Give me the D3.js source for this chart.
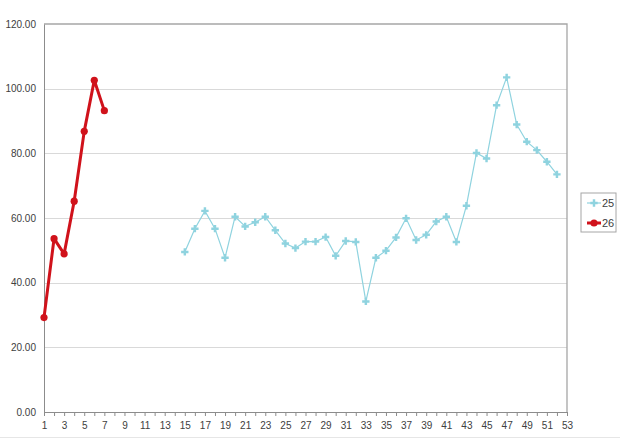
<!DOCTYPE html>
<html>
<head>
<meta charset="utf-8">
<script src="https://cdn.jsdelivr.net/npm/d3@7"></script>
<style>
  body { margin: 0; background: #fff; }
  text { font-family: "Liberation Sans Narrow", "Liberation Sans", sans-serif; fill: #404040; }
</style>
</head>
<body>
<svg id="chart" width="620" height="439"></svg>
<script>
// weeks 1..53
const weeks = d3.range(1, 54);
const yTicks = [0, 20, 40, 60, 80, 100, 120];

// series "25" starts at week 15
const start25 = 15;
const values25 = [49.5, 56.7, 62.2, 56.7, 47.7, 60.4, 57.4, 58.7, 60.4, 56.2,
  52.1, 50.7, 52.7, 52.7, 54.1, 48.3, 52.9, 52.6, 34.2, 47.7,
  49.9, 54.0, 59.9, 53.2, 54.8, 58.9, 60.4, 52.6, 63.8, 80.1,
  78.4, 94.9, 103.5, 88.9, 83.6, 81.0, 77.4, 73.5];

// series "26" weeks 1..7
const values26 = [29.2, 53.6, 48.9, 65.2, 86.8, 102.6, 93.2];

const svg = d3.select("#chart");
const margin = { left: 44, right: 53, top: 24, bottom: 27 };
const width = +svg.attr("width");
const height = +svg.attr("height");

const x = d3.scaleLinear().domain([1, 53]).range([margin.left, width - margin.right]);
const y = d3.scaleLinear().domain([0, 120]).range([height - margin.bottom, margin.top]);

const data25 = values25.map((v, i) => ({ w: start25 + i, v }));
const data26 = values26.map((v, i) => ({ w: i + 1, v }));

// bottom chart border
svg.append("line")
  .attr("x1", 0).attr("x2", width)
  .attr("y1", height - 1.5).attr("y2", height - 1.5)
  .style("stroke", "#e6e6e6");

// gridlines
svg.append("g")
  .selectAll("line")
  .data(yTicks.filter((t) => t > 0 && t < 120))
  .enter()
  .append("line")
  .attr("x1", x(1)).attr("x2", x(53))
  .attr("y1", (d) => Math.round(y(d)) + 0.5)
  .attr("y2", (d) => Math.round(y(d)) + 0.5)
  .style("stroke", "#d9d9d9");

// plot frame (top + right)
svg.append("path")
  .attr("d", `M${x(1)},${y(120)}H${x(53)}V${y(0)}`)
  .style("fill", "none")
  .style("stroke", "#a6a6a6")
  .style("stroke-width", "1.3px");

// y axis
const yAxis = svg.append("g")
  .attr("transform", `translate(${x(1)},0)`)
  .call(d3.axisLeft(y).tickValues(yTicks).tickSize(0).tickPadding(8).tickFormat(d3.format(".2f")));
yAxis.select(".domain").style("stroke", "#8c8c8c");
yAxis.selectAll("text").style("font-size", "10px").style("fill", "#404040");

// x axis
const xAxis = svg.append("g")
  .attr("transform", `translate(0,${y(0)})`)
  .call(d3.axisBottom(x).tickValues(weeks).tickSize(4).tickPadding(6)
    .tickFormat((d) => (d % 2 === 1 ? d : "")));
xAxis.select(".domain").style("stroke", "#8c8c8c");
xAxis.selectAll(".tick line").style("stroke", "#8c8c8c");
xAxis.selectAll("text").style("font-size", "10px").style("fill", "#404040");

const line = d3.line().x((d) => x(d.w)).y((d) => y(d.v));

// series 25
const c25 = "#8fd3df";
svg.append("path")
  .datum(data25)
  .attr("d", line)
  .style("fill", "none")
  .style("stroke", c25)
  .style("stroke-width", "1.2px");
const marker25 = d3.symbol().type(d3.symbolCross).size(30);
svg.append("g")
  .selectAll("path")
  .data(data25)
  .enter()
  .append("path")
  .attr("d", marker25)
  .attr("transform", (d) => `translate(${x(d.w)},${y(d.v)})`)
  .style("fill", c25);

// series 26
const c26 = "#d0121b";
svg.append("path")
  .datum(data26)
  .attr("d", line)
  .style("fill", "none")
  .style("stroke", c26)
  .style("stroke-width", "3px")
  .style("stroke-linejoin", "round");
svg.append("g")
  .selectAll("circle")
  .data(data26)
  .enter()
  .append("circle")
  .attr("cx", (d) => x(d.w))
  .attr("cy", (d) => y(d.v))
  .attr("r", 3.6)
  .style("fill", c26);

// legend
const legend = svg.append("g").attr("transform", "translate(581,193)");
legend.append("rect")
  .attr("width", 35).attr("height", 39)
  .style("fill", "#fff")
  .style("stroke", "#a6a6a6");
const items = [
  { name: "25", color: c25, w: 1.2, marker: "cross" },
  { name: "26", color: c26, w: 3, marker: "circle" }
];
items.forEach((it, i) => {
  const yy = 10 + i * 20;
  legend.append("line")
    .attr("x1", 6).attr("x2", 20)
    .attr("y1", yy).attr("y2", yy)
    .style("stroke", it.color)
    .style("stroke-width", it.w + "px");
  if (it.marker === "cross") {
    legend.append("path")
      .attr("d", marker25)
      .attr("transform", `translate(13,${yy})`)
      .style("fill", it.color);
  } else {
    legend.append("circle")
      .attr("cx", 13).attr("cy", yy).attr("r", 3.6)
      .style("fill", it.color);
  }
  legend.append("text")
    .attr("x", 21).attr("y", yy + 4)
    .style("font-size", "11px")
    .text(it.name);
});
</script>
</body>
</html>
